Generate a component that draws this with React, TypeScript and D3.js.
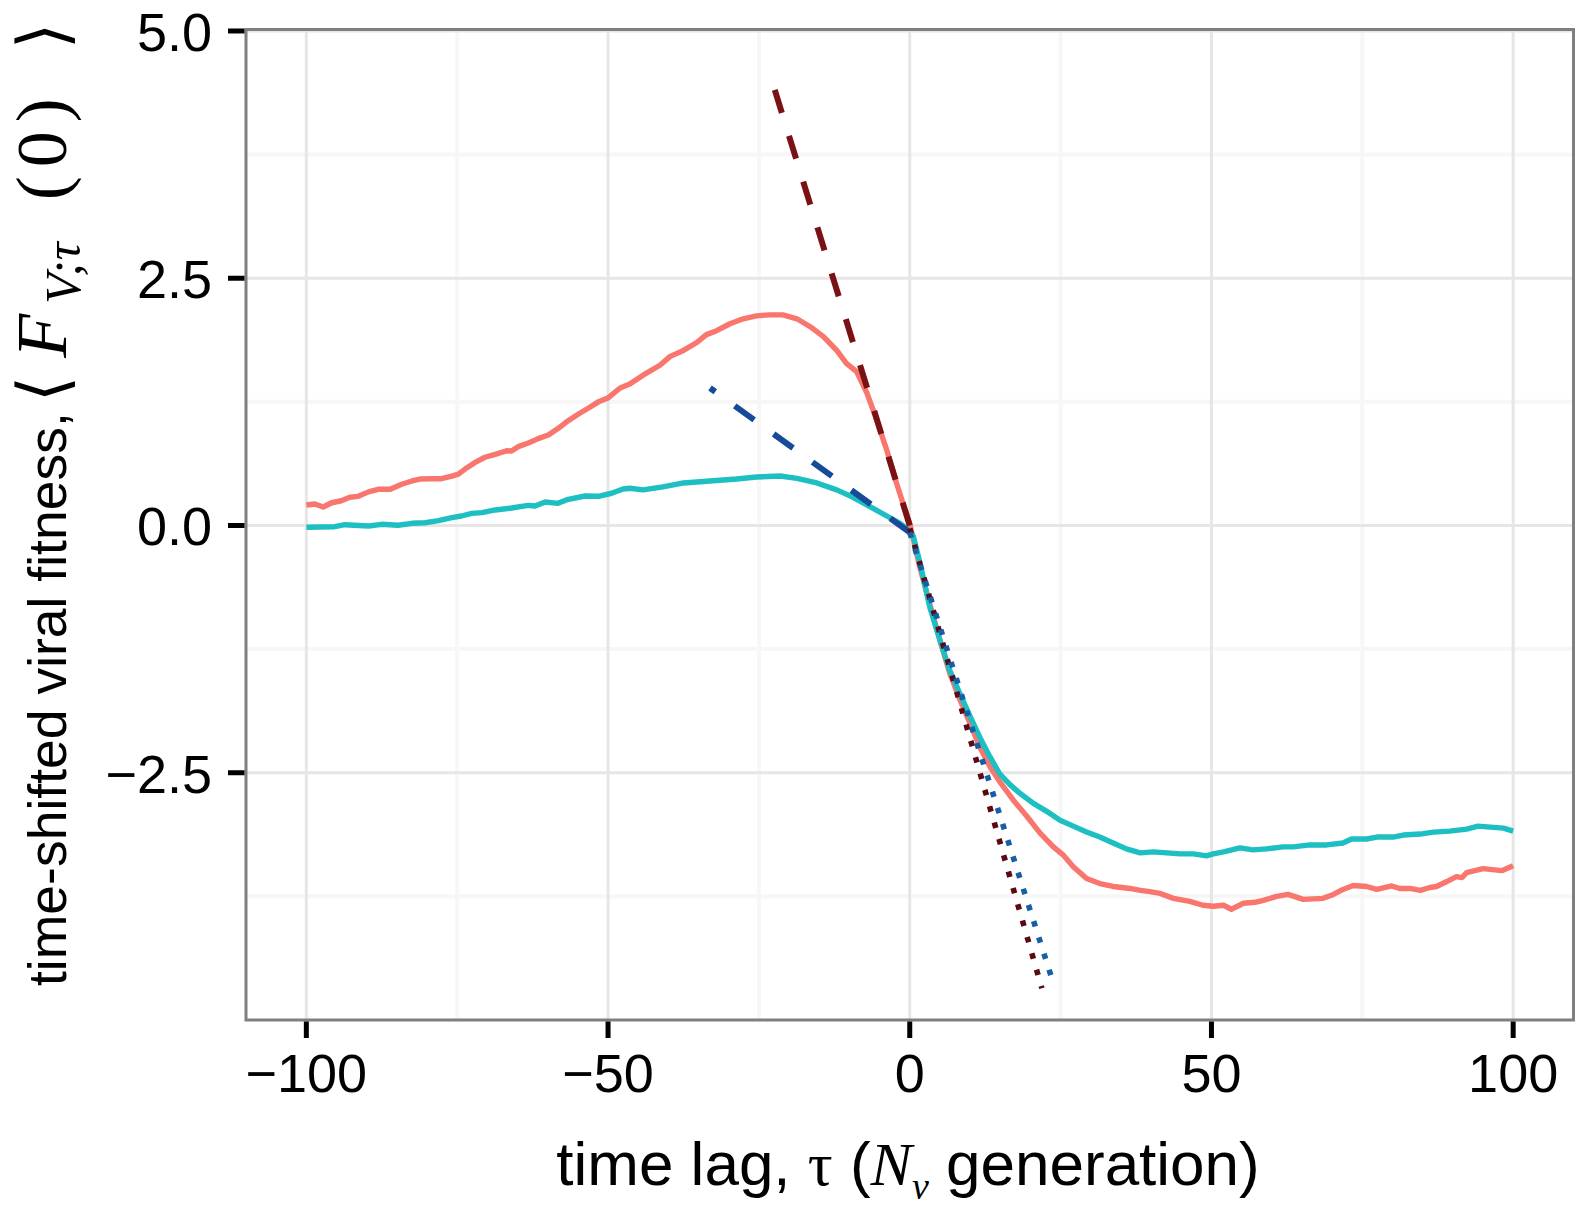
import React from 'react';
import * as d3 from 'd3';

// ---- data ----
const xTicks = [-100, -50, 0, 50, 100];
const xMinorTicks = [-75, -25, 25, 75];
const yTicks = [-2.5, 0, 2.5, 5];
const yMinorTicks = [-3.75, -1.25, 1.25, 3.75];
const xTickLabels = ['\u2212100', '\u221250', '0', '50', '100'];
const yTickLabels = ['\u22122.5', '0.0', '2.5', '5.0'];

const redTau = [-100, -98.6, -97.2, -95.8, -94.2, -92.8, -91.4, -89.7, -88.1, -86.1, -84.2, -82.5, -81.2, -79.2, -77.6, -75.9, -74.8, -73.7, -72.1, -70.4, -68.7, -66.8, -66.0, -64.9, -63.2, -61.6, -59.9, -58.3, -56.6, -54.9, -53.3, -51.6, -50.0, -48.0, -46.4, -44.2, -41.4, -39.7, -37.5, -35.3, -33.7, -32.0, -29.8, -27.6, -25.4, -23.2, -21.0, -18.7, -16.5, -14.3, -12.1, -10.5, -8.8, -7.1, -5.5, -3.8, -2.2, -1.1, 0, 1.66, 3.3, 5.0, 6.6, 8.3, 9.97, 11.6, 13.3, 14.9, 17.2, 19.4, 21.6, 23.8, 25.4, 27.1, 29.3, 31.5, 33.7, 36.5, 38.2, 39.5, 41.5, 43.7, 46.4, 48.6, 50.3, 52.0, 53.3, 55.3, 57.2, 58.6, 60.8, 62.7, 65.2, 68.5, 70.2, 71.8, 73.5, 75.7, 77.4, 79.9, 81.2, 82.9, 84.6, 86.2, 87.3, 89.0, 90.6, 91.5, 92.3, 95.0, 98.1, 100];
const redFit = [0.207, 0.217, 0.187, 0.23, 0.25, 0.285, 0.295, 0.34, 0.366, 0.366, 0.417, 0.45, 0.47, 0.473, 0.473, 0.50, 0.52, 0.57, 0.635, 0.69, 0.72, 0.756, 0.753, 0.797, 0.834, 0.878, 0.915, 0.98, 1.06, 1.127, 1.185, 1.25, 1.29, 1.39, 1.43, 1.52, 1.62, 1.71, 1.77, 1.85, 1.93, 1.97, 2.04, 2.09, 2.12, 2.13, 2.13, 2.09, 2.01, 1.91, 1.77, 1.64, 1.555, 1.34, 1.07, 0.76, 0.43, 0.22, 0.02, -0.42, -0.79, -1.16, -1.49, -1.76, -2.00, -2.24, -2.44, -2.59, -2.78, -2.94, -3.11, -3.25, -3.33, -3.45, -3.57, -3.62, -3.65, -3.67, -3.69, -3.70, -3.72, -3.77, -3.80, -3.84, -3.85, -3.84, -3.88, -3.82, -3.81, -3.79, -3.75, -3.73, -3.78, -3.77, -3.73, -3.68, -3.64, -3.65, -3.68, -3.645, -3.67, -3.67, -3.69, -3.66, -3.65, -3.60, -3.55, -3.56, -3.51, -3.47, -3.49, -3.44];

const tealTau = [-100, -95.3, -93.6, -89.7, -87.5, -84.8, -82.5, -80.3, -78.1, -75.9, -74.3, -72.6, -70.9, -68.7, -66.0, -63.2, -62.1, -60.4, -58.3, -56.6, -53.8, -51.6, -49.4, -47.5, -46.4, -44.2, -40.9, -37.5, -33.1, -28.7, -25.4, -21.5, -18.7, -15.4, -12.1, -9.4, -6.6, -3.8, -1.6, 0, 0.6, 1.7, 3.3, 5.0, 6.6, 8.3, 10.0, 11.6, 13.3, 14.9, 16.6, 18.3, 20.5, 22.7, 24.9, 27.1, 29.3, 31.5, 33.7, 35.9, 38.2, 40.4, 42.6, 44.8, 47.0, 49.2, 50.3, 52.0, 54.7, 56.9, 59.1, 61.9, 63.6, 66.3, 69.1, 71.8, 73.2, 75.7, 77.4, 80.1, 81.8, 84.6, 86.8, 89.5, 92.3, 94.2, 96.2, 98.4, 100];
const tealFit = [-0.018, -0.012, 0.008, -0.005, 0.012, 0.002, 0.022, 0.028, 0.05, 0.079, 0.096, 0.123, 0.13, 0.157, 0.177, 0.204, 0.197, 0.238, 0.224, 0.265, 0.298, 0.295, 0.326, 0.369, 0.376, 0.36, 0.39, 0.43, 0.45, 0.47, 0.49, 0.50, 0.477, 0.43, 0.36, 0.285, 0.19, 0.096, 0.022, -0.06, -0.11, -0.38, -0.82, -1.16, -1.46, -1.70, -1.93, -2.14, -2.34, -2.51, -2.62, -2.71, -2.81, -2.89, -2.98, -3.04, -3.10, -3.15, -3.21, -3.27, -3.31, -3.30, -3.31, -3.32, -3.32, -3.34, -3.32, -3.30, -3.26, -3.28, -3.27, -3.25, -3.25, -3.23, -3.23, -3.21, -3.17, -3.17, -3.15, -3.15, -3.13, -3.12, -3.10, -3.09, -3.07, -3.04, -3.05, -3.06, -3.09];

// straight reference lines: [tau, fitness] end points (drawn from the origin outward)
const dashedRedLine: [number, number][] = [[0, 0.0], [-22.5, 4.43]];
const dashedBlueLine: [number, number][] = [[0, -0.07], [-33.1, 1.39]];
const dottedRedLine: [number, number][] = [[0, -0.03], [21.9, -4.68]];
const dottedBlueLine: [number, number][] = [[0, -0.07], [23.5, -4.57]];

const W = 1586;
const H = 1211;
const P = { left: 246, right: 1573.5, top: 29.5, bottom: 1020 };
const SANS = '"Liberation Sans", Arial, Helvetica, sans-serif';
const SERIF = '"Liberation Serif", "DejaVu Serif", serif';
const BRACKET = '"DejaVu Serif", serif';

export default function App() {
  const x = d3.scaleLinear().domain([-110, 110]).range([P.left, P.right]);
  const y = d3.scaleLinear().domain([-5.0, 5.015]).range([P.bottom, P.top]);
  const line = d3
    .line<[number, number]>()
    .x((d) => x(d[0]))
    .y((d) => y(d[1]));
  const red = redTau.map((t, i) => [t, redFit[i]] as [number, number]);
  const teal = tealTau.map((t, i) => [t, tealFit[i]] as [number, number]);

  return (
    <svg
      width={W}
      height={H}
      viewBox={`0 0 ${W} ${H}`}
      style={{ position: 'absolute', left: 0, top: 0, background: '#fff' }}
    >
      <rect x={0} y={0} width={W} height={H} fill="#fff" />
      {/* minor grid */}
      {xMinorTicks.map((t) => (
        <line key={'xm' + t} x1={x(t)} x2={x(t)} y1={P.top} y2={P.bottom} stroke="#f7f7f7" strokeWidth={4} />
      ))}
      {yMinorTicks.map((t) => (
        <line key={'ym' + t} x1={P.left} x2={P.right} y1={y(t)} y2={y(t)} stroke="#f7f7f7" strokeWidth={4} />
      ))}
      {/* major grid */}
      {xTicks.map((t) => (
        <line key={'xg' + t} x1={x(t)} x2={x(t)} y1={P.top} y2={P.bottom} stroke="#e6e6e6" strokeWidth={3} />
      ))}
      {yTicks.map((t) => (
        <line key={'yg' + t} x1={P.left} x2={P.right} y1={y(t)} y2={y(t)} stroke="#e6e6e6" strokeWidth={3} />
      ))}

      {/* data lines */}
      <path d={line(red) || ''} fill="none" stroke="#F8766D" strokeWidth={5.4} strokeLinejoin="round" />
      <path d={line(teal) || ''} fill="none" stroke="#1DBFC3" strokeWidth={5.4} strokeLinejoin="round" />
      <path d={line(dashedRedLine) || ''} fill="none" stroke="#7a1215" strokeWidth={6} strokeDasharray="24 24" />
      <path d={line(dashedBlueLine) || ''} fill="none" stroke="#174a98" strokeWidth={6} strokeDasharray="24 24" />
      <path d={line(dottedRedLine) || ''} fill="none" stroke="#5a0a12" strokeWidth={5.6} strokeDasharray="5.6 11.4" />
      <path d={line(dottedBlueLine) || ''} fill="none" stroke="#165ea7" strokeWidth={5.6} strokeDasharray="5.6 11.4" />

      {/* panel border */}
      <rect
        x={P.left}
        y={P.top}
        width={P.right - P.left}
        height={P.bottom - P.top}
        fill="none"
        stroke="#7f7f7f"
        strokeWidth={3}
      />

      {/* axes ticks */}
      {xTicks.map((t, i) => (
        <g key={'xt' + t}>
          <line x1={x(t)} x2={x(t)} y1={P.bottom + 1.5} y2={P.bottom + 18} stroke="#000" strokeWidth={5} />
          <text x={x(t)} y={1092} textAnchor="middle" fontFamily={SANS} fontSize={54} fill="#000">
            {xTickLabels[i]}
          </text>
        </g>
      ))}
      {yTicks.map((t, i) => (
        <g key={'yt' + t}>
          <line x1={P.left - 18} x2={P.left - 1.5} y1={y(t)} y2={y(t)} stroke="#000" strokeWidth={5} />
          <text x={212} y={y(t) + 20} textAnchor="end" fontFamily={SANS} fontSize={54} fill="#000">
            {yTickLabels[i]}
          </text>
        </g>
      ))}

      {/* x axis title */}
      <text x={908} y={1185} textAnchor="middle" fontFamily={SANS} fontSize={62} fill="#000">
        <tspan>{'time lag, '}</tspan>
        <tspan fontFamily={SERIF}>{'\u03C4'}</tspan>
        <tspan>{' ('}</tspan>
        <tspan fontFamily={SERIF} fontStyle="italic">N</tspan>
        <tspan fontFamily={SERIF} fontStyle="italic" fontSize={38} dy={14}>{'\u03BD'}</tspan>
        <tspan dy={-14}>{' generation)'}</tspan>
      </text>

      {/* y axis title */}
      <text transform="translate(66,986) rotate(-90)" fontFamily={SANS} fontSize={53.5} fill="#000">
        <tspan>{'time-shifted viral fitness,'}</tspan>
        <tspan fontFamily={BRACKET} fontSize={68} dx={10}>{'\u27E8'}</tspan>
        <tspan fontFamily={SERIF} fontStyle="italic" fontSize={72} dx={18}>F</tspan>
        <tspan fontFamily={SERIF} fontStyle="italic" fontSize={50} dy={14} dx={10}>{'V;\u03C4'}</tspan>
        <tspan fontFamily={SERIF} fontSize={72} dy={-14} dx={42} letterSpacing={9}>{'(0)'}</tspan>
        <tspan fontFamily={BRACKET} fontSize={68} dx={40}>{'\u27E9'}</tspan>
      </text>
    </svg>
  );
}
